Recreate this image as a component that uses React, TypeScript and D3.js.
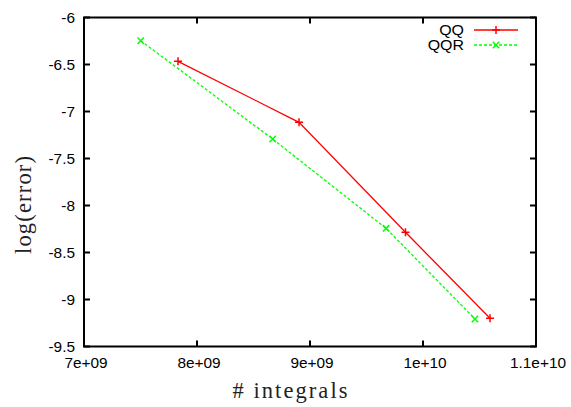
import React from "react";
import * as d3 from "d3";

const qqX = [7.832e9, 8.903e9, 9.845e9, 1.0593e10];
const qqY = [-6.466, -7.115, -8.285, -9.2];
const qqrX = [7.502e9, 8.67e9, 9.673e9, 1.046e10];
const qqrY = [-6.247, -7.293, -8.243, -9.207];
const xTicks = [7e9, 8e9, 9e9, 1e10, 1.1e10];
const xTickLabels = ["7e+09", "8e+09", "9e+09", "1e+10", "1.1e+10"];
const yTicks = [-6, -6.5, -7, -7.5, -8, -8.5, -9, -9.5];
const yTickLabels = ["-6", "-6.5", "-7", "-7.5", "-8", "-8.5", "-9", "-9.5"];
const seriesNames = ["QQ", "QQR"];

const W = 571, H = 407;
const L = 84, R = 536, T = 17.5, B = 346.5;
const SX = 1.1;
const tickFont = "'Liberation Sans', Arial, sans-serif";
const serif = "'Liberation Serif', 'DejaVu Serif', serif";

function SText({ x, y, anchor, size, children }: { x: number; y: number; anchor: string; size: number; children: string }) {
  return (
    <text transform={`translate(${x},${y}) scale(${SX},1)`} textAnchor={anchor} fontFamily={tickFont} fontSize={size}>
      {children}
    </text>
  );
}

export default function App() {
  const x = d3.scaleLinear().domain([7e9, 1.1e10]).range([L, R]);
  const y = d3.scaleLinear().domain([-9.5, -6]).range([B, T]);
  const line = d3.line<[number, number]>().x(d => x(d[0])).y(d => y(d[1]));
  const qq = qqX.map((v, i) => [v, qqY[i]] as [number, number]);
  const qqr = qqrX.map((v, i) => [v, qqrY[i]] as [number, number]);
  const tl = 6;
  const plus = (cx: number, cy: number, s = 4) => `M${cx - s},${cy}H${cx + s}M${cx},${cy - s}V${cy + s}`;
  const cross = (cx: number, cy: number, s = 3.2) => `M${cx - s},${cy - s}L${cx + s},${cy + s}M${cx - s},${cy + s}L${cx + s},${cy - s}`;
  return (
    <svg width={W} height={H} style={{ position: "absolute", left: 0, top: 0, background: "#fff" }}>
      <rect x={0} y={0} width={W} height={H} fill="#fff" />
      {xTicks.map((t, i) => (
        <g key={"x" + i}>
          <line x1={x(t)} x2={x(t)} y1={B} y2={B - tl} stroke="#000" strokeWidth={2} />
          <line x1={x(t)} x2={x(t)} y1={T} y2={T + tl} stroke="#000" strokeWidth={2} />
          <SText x={x(t) + 2} y={368} anchor="middle" size={14}>{xTickLabels[i]}</SText>
        </g>
      ))}
      {yTicks.map((t, i) => (
        <g key={"y" + i}>
          <line x1={L} x2={L + tl} y1={y(t)} y2={y(t)} stroke="#000" strokeWidth={2} />
          <line x1={R} x2={R - tl} y1={y(t)} y2={y(t)} stroke="#000" strokeWidth={2} />
          <SText x={75} y={y(t) + 5} anchor="end" size={14}>{yTickLabels[i]}</SText>
        </g>
      ))}
      <rect x={L} y={T} width={R - L} height={B - T} fill="none" stroke="#000" strokeWidth={2} />
      <path d={line(qq) || ""} fill="none" stroke="#ff0000" strokeWidth={1.3} />
      {qq.map((d, i) => <path key={"qp" + i} d={plus(x(d[0]), y(d[1]))} stroke="#ff0000" strokeWidth={1.5} />)}
      <path d={line(qqr) || ""} fill="none" stroke="#00ff00" strokeWidth={1.3} strokeDasharray="3,2" />
      {qqr.map((d, i) => <path key={"rp" + i} d={cross(x(d[0]), y(d[1]))} stroke="#00ff00" strokeWidth={1.5} />)}
      <SText x={464} y={35} anchor="end" size={14.5}>{seriesNames[0]}</SText>
      <line x1={474} x2={518} y1={30} y2={30} stroke="#ff0000" strokeWidth={1.3} />
      <path d={plus(496, 30)} stroke="#ff0000" strokeWidth={1.5} />
      <SText x={464} y={50} anchor="end" size={14.5}>{seriesNames[1]}</SText>
      <line x1={474} x2={518} y1={45} y2={45} stroke="#00ff00" strokeWidth={1.3} strokeDasharray="3,2" />
      <path d={cross(496, 45)} stroke="#00ff00" strokeWidth={1.5} />
      <text transform="translate(31,205) rotate(-90)" textAnchor="middle" fontFamily={serif} fontSize={22.5} fill="#222" textLength={98} lengthAdjust="spacing">log(error)</text>
      <text x={290} y={398} textAnchor="middle" fontFamily={serif} fontSize={22.5} fill="#222" textLength={115} lengthAdjust="spacing"># integrals</text>
    </svg>
  );
}
